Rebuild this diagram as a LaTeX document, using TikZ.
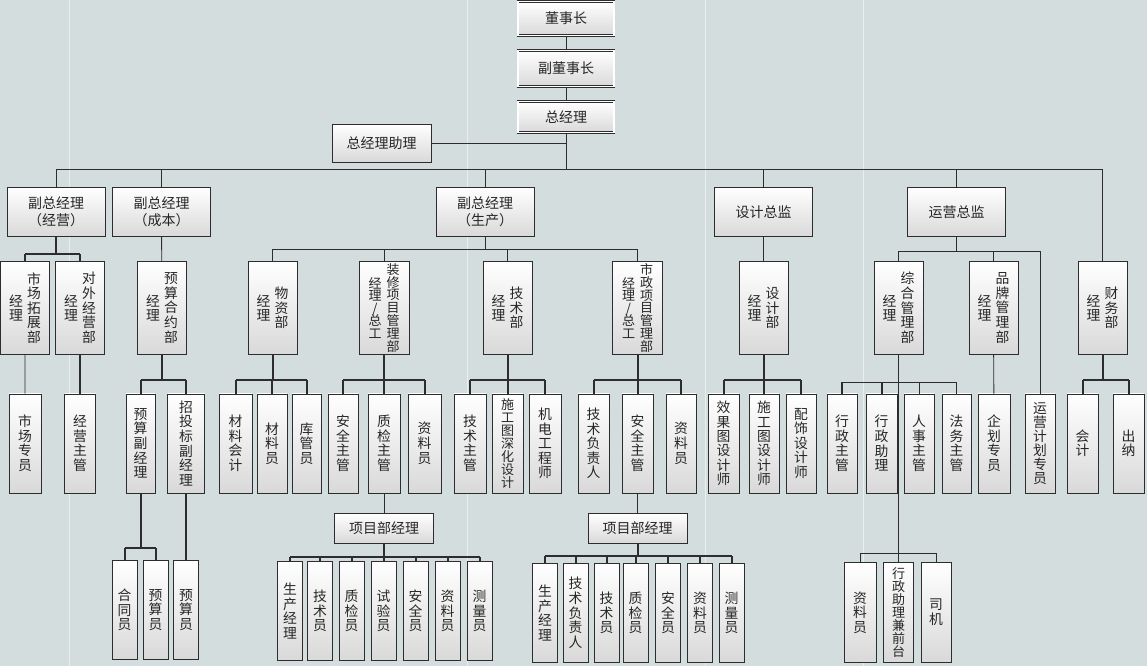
\documentclass[tikz,border=0pt]{standalone}
\usepackage{fontspec}
\setmainfont{Noto Sans CJK SC}
\definecolor{bgc}{RGB}{211,221,221}
\definecolor{ink}{RGB}{45,45,45}
% vertical text: one character per row, fixed pitch
\newcommand\vcol[2][14.6pt]{\parbox[c]{15pt}{\centering
  \fontsize{\ifdim#1<13.5pt 13pt\else 13.8pt\fi}{#1}\selectfont\lineskiplimit=-\maxdimen #2}}
\newcommand\vtwo[3][14.6pt]{\vcol[#1]{#2}\hspace{3pt}\vcol[#1]{#3}}

\begin{document}
\begin{tikzpicture}[x=1pt,y=-1pt,
  box/.style={draw=ink,line width=0.7pt,top color=white,bottom color=black!15,inner sep=0pt,text=black!85},
  sz/.style 2 args={minimum width=#1pt,minimum height=#2pt},
  topbox/.style={box,double=white,double distance=1.4pt,line width=0.6pt},
  hz/.style={font=\fontsize{14pt}{17pt}\selectfont,align=center},
  link/.style={draw=ink,line width=0.9pt},
  heavy/.style={draw=ink,line width=2pt}]
  %% background
  \fill[bgc] (0,0) rectangle (1147,666);
  \foreach \x in {69,467,705,863}
    \draw[white,opacity=0.5,line width=0.8pt] (\x,0) -- (\x,666);
  \useasboundingbox (0,0) rectangle (1147,666);

  %% top
  \node[topbox,sz={96}{34},hz] (chair) at (566,18) {董事长};
  \node[topbox,sz={96}{36},hz] (vchair) at (566,68) {副董事长};
  \node[topbox,sz={96}{31},hz] (gm) at (566,116.5) {总经理};
  \node[box,sz={99}{38},hz] (gmasst) at (381.5,143) {总经理助理};
  \coordinate (t1) at (566,169);
  \draw[link] (chair) -- (vchair) (vchair) -- (gm) (gm) -- (t1) (gmasst) -- (gmasst -| gm);

  %% level 2
  \foreach \n/\x/\txt in {vpA/56/{副总经理\\（经营）}, vpB/161.5/{副总经理\\（成本）},
    vpC/485/{副总经理\\（生产）}, dsn/763.5/设计总监, ops/956.5/运营总监}
  {
    \node[box,sz={98}{49},hz] (\n) at (\x,211.5) {\txt};
    \draw[link] (\n) -- (\n |- t1);
  }

  %% level 3: department managers
  \foreach \n/\x/\lc/\rc in {mkt/25/{经\\理}/{市\\场\\拓\\展\\部}, ext/80/{经\\理}/{对\\外\\经\\营\\部},
    bud/162/{经\\理}/{预\\算\\合\\约\\部}, mat/272.5/{经\\理}/{物\\资\\部},
    tech/507.5/{经\\理}/{技\\术\\部}, dsd/763.5/{经\\理}/{设\\计\\部},
    adm/898.5/{经\\理}/{综\\合\\管\\理\\部}, brd/993.5/{经\\理}/{品\\牌\\管\\理\\部},
    fin/1102.5/{经\\理}/{财\\务\\部}}
    \node[box,sz={49}{93}] (\n) at (\x,307.5) {\vtwo{\lc}{\rc}};
  \node[box,sz={50}{93}] (dec) at (384,307.5)
    {\vcol[12.4pt]{经\\理\\/\\总\\工}\hspace{3pt}\vcol[12.9pt]{装\\修\\项\\目\\管\\理\\部}};
  \node[box,sz={50}{93}] (mun) at (637.5,307.5)
    {\vcol[12.4pt]{经\\理\\/\\总\\工}\hspace{3pt}\vcol[12.9pt]{市\\政\\项\\目\\管\\理\\部}};

  %% level 4
  \foreach \n/\x/\w/\p/\txt in {mktA/25/32/14.6pt/{市\\场\\专\\员}, extA/80/31/14.6pt/{经\\营\\主\\管},
    budA/140.5/29/14.6pt/{预\\算\\副\\经\\理}, budB/186/37/14.6pt/{招\\投\\标\\副\\经\\理},
    matA/235.5/33/14.6pt/{材\\料\\会\\计}, matB/272/30/14.6pt/{材\\料\\员},
    matC/306.5/29/14.6pt/{库\\管\\员}, decA/343/30/14.6pt/{安\\全\\主\\管},
    decB/384/32/14.6pt/{质\\检\\主\\管}, decC/424.5/33/14.6pt/{资\\料\\员},
    techA/470/32/14.6pt/{技\\术\\主\\管}, techB/507.5/31/12.9pt/{施\\工\\图\\深\\化\\设\\计},
    techC/545/32/14.6pt/{机\\电\\工\\程\\师}, munA/593.5/31/14.6pt/{技\\术\\负\\责\\人},
    munB/637.5/31/14.6pt/{安\\全\\主\\管}, munC/681/30/14.6pt/{资\\料\\员},
    dsdA/723.5/31/14.3pt/{效\\果\\图\\设\\计\\师}, dsdB/764/30/14.3pt/{施\\工\\图\\设\\计\\师},
    dsdC/801/30/14.6pt/{配\\饰\\设\\计\\师}, admA/842/30/14.6pt/{行\\政\\主\\管},
    admB/881.5/31/14.6pt/{行\\政\\助\\理}, admC/919/30/14.6pt/{人\\事\\主\\管},
    admD/956.5/29/14.6pt/{法\\务\\主\\管}, brdA/994/32/14.6pt/{企\\划\\专\\员},
    plan/1040/30/14.1pt/{运\\营\\计\\划\\专\\员}, finA/1082.5/31/14.6pt/{会\\计},
    finB/1128.5/31/14.6pt/{出\\纳}}
    \node[box,sz={\w}{99}] (\n) at (\x,443) {\vcol[\p]{\txt}};

  %% level 5
  \foreach \n/\x/\txt in {bcA/124.5/{合\\同\\员}, bcB/155.5/{预\\算\\员}, bcC/186/{预\\算\\员}}
    \node[box,sz={25}{99}] (\n) at (\x,609.5) {\vcol{\txt}};
  \node[box,sz={99}{30},hz] (pmL) at (384,528) {项目部经理};
  \node[box,sz={99}{30},hz] (pmR) at (637.5,528) {项目部经理};
  \foreach \i/\x/\txt in {1/290/{生\\产\\经\\理}, 2/320/{技\\术\\员}, 3/351.5/{质\\检\\员},
    4/383.5/{试\\验\\员}, 5/415.5/{安\\全\\员}, 6/447.5/{资\\料\\员}, 7/479.5/{测\\量\\员}}
    \node[box,sz={25}{99}] (pL\i) at (\x,610.5) {\vcol{\txt}};
  \foreach \i/\x/\txt in {1/545/{生\\产\\经\\理}, 2/575.5/{技\\术\\负\\责\\人}, 3/606.5/{技\\术\\员},
    4/635.5/{质\\检\\员}, 5/668/{安\\全\\员}, 6/700/{资\\料\\员}, 7/731.5/{测\\量\\员}}
    \node[box,sz={25}{99}] (pR\i) at (\x,612.5) {\vcol{\txt}};
  \foreach \n/\x/\w/\p/\txt in {aS1/860/32/14.6pt/{资\\料\\员}, aS2/898.5/30/12.9pt/{行\\政\\助\\理\\兼\\前\\台},
    aS3/936/30/14.6pt/{司\\机}}
    \node[box,sz={\w}{100}] (\n) at (\x,612) {\vcol[\p]{\txt}};

  %% connectors, level 1 to 3
  \draw[link] (vpA |- t1) -- (fin |- t1) (fin) -- (fin |- t1);
  \coordinate (t2a) at (0,254);
  \coordinate (t2c) at (0,249);
  \coordinate (t2o) at (0,251);
  \draw[heavy] (vpA) -- (vpA |- t2a) (mkt |- t2a) -- (ext |- t2a);
  \foreach \n in {mkt,ext} \draw[heavy] (\n) -- (\n |- t2a);
  \draw[link] (vpB) -- (bud) (dsn) -- (dsd);
  \draw[link] (vpC) -- (vpC |- t2c) (mat |- t2c) -- (mun |- t2c);
  \foreach \n in {mat,dec,tech,mun} \draw[link] (\n) -- (\n |- t2c);
  \draw[link] (ops) -- (ops |- t2o) (adm |- t2o) -- (plan |- t2o);
  \foreach \n in {adm,brd,plan} \draw[link] (\n) -- (\n |- t2o);

  %% connectors, level 3 to 4
  \coordinate (t3) at (0,380);
  \coordinate (t3a) at (0,382);
  \foreach \p/\f/\l in {bud/budA/budB, mat/matA/matC, dec/decA/decC, tech/techA/techC,
    mun/munA/munC, dsd/dsdA/dsdC, fin/finA/finB}
    \draw[heavy] (\p) -- (\p |- t3) (\f |- t3) -- (\l |- t3);
  \foreach \c in {budA,budB,matA,matB,matC,decA,decB,decC,techA,techB,techC,
    munA,munB,munC,dsdA,dsdB,dsdC,finA,finB}
    \draw[heavy] (\c) -- (\c |- t3);
  \draw[link] (mkt) -- (mktA) (brd) -- (brdA);
  \draw[heavy] (ext) -- (extA);
  \draw[link] (admA |- t3a) -- (admD |- t3a);
  \draw[heavy] (admA) -- (admA |- t3a) (admB) -- (admB |- t3a);
  \draw[link] (admC) -- (admC |- t3a) (admD) -- (admD |- t3a);

  %% connectors, level 4 to 5
  \coordinate (t4b) at (0,548);
  \draw[heavy] (budA) -- (budA |- t4b) (bcA |- t4b) -- (bcB |- t4b)
    (bcA) -- (bcA |- t4b) (bcB) -- (bcB |- t4b) (budB) -- (bcC);
  \coordinate (t5l) at (0,557);
  \coordinate (t5r) at (0,556);
  \draw[link] (decB) -- (pmL) (munB) -- (pmR);
  \draw[heavy] (pmL) -- (pmL |- t5l) (pL1 |- t5l) -- (pL7 |- t5l);
  \draw[heavy] (pmR) -- (pmR |- t5r) (pR1 |- t5r) -- (pR7 |- t5r);
  \foreach \i in {1,...,7}
  {
    \draw[heavy] (pL\i) -- (pL\i |- t5l);
    \draw[heavy] (pR\i) -- (pR\i |- t5r);
  }
  \coordinate (t5a) at (0,553);
  \draw[link] (adm) -- (adm |- t5a) (aS1 |- t5a) -- (aS3 |- t5a);
  \foreach \c in {aS1,aS2,aS3} \draw[link] (\c) -- (\c |- t5a);
\end{tikzpicture}
\end{document}
